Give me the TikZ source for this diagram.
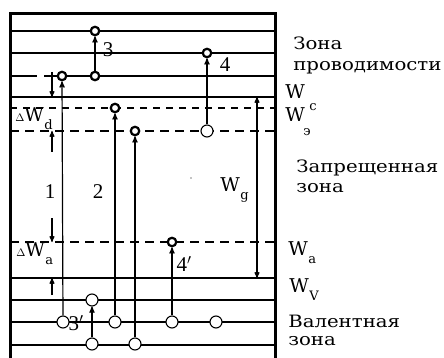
\documentclass[tikz,border=0pt]{standalone}
\usepackage{fontspec}
\usepackage{graphicx}
\usepackage{tikz}
\usetikzlibrary{arrows}
\setmainfont{DejaVu Serif}
\newfontfamily\numfont{Liberation Serif}
\newcommand{\zonetext}[1]{\scalebox{1.16}[1]{#1}}
\newcommand{\lvl}[1]{W\kern0.5pt\raisebox{-8pt}{\fontsize{13}{13}\selectfont #1}}

\begin{document}
\begin{tikzpicture}[x=1pt,y=-1pt,>=stealth',semithick]
\tikzstyle{level}=[line width=1.1pt]
\tikzstyle{edge level}=[line width=2.6pt]
\tikzstyle{donor}=[line width=1.1pt,dash pattern=on 7pt off 6pt]
\tikzstyle{impurity}=[line width=2.6pt,dash pattern=on 9pt off 6pt]
\tikzstyle{electron}=[circle,draw,fill=white,line width=2.2pt,inner sep=0pt,minimum size=8.5pt]
\tikzstyle{hole}=[circle,draw,fill=white,line width=1.1pt,inner sep=0pt,minimum size=12pt]
\tikzstyle{jump}=[->,line width=1.2pt]
\tikzstyle{lbl}=[inner sep=0pt,anchor=base west,font=\fontsize{17}{17}\selectfont]
\tikzstyle{wlbl}=[inner sep=0pt,anchor=base west,font=\fontsize{19}{19}\selectfont]
\tikzstyle{sub}=[inner sep=0pt,anchor=base west,font=\fontsize{13}{13}\selectfont]
\tikzstyle{num}=[inner sep=0pt,font=\numfont\fontsize{21}{21}\selectfont]

\useasboundingbox (0,0) rectangle (444,358);

% energy levels
\foreach \y in {31,53,300,322,345}
  \draw[level] (10,\y) -- (275,\y);
\draw[level] (10,76) -- (37,76) (44,76) -- (275,76);
\draw[edge level] (10,97) -- (275,97);
\draw[edge level] (10,278) -- (275,278);
\draw[donor] (10,108) -- (275,108);
\draw[impurity] (10,131) -- (275,131);
\draw[impurity] (10,242) -- (275,242);
\draw[line width=3pt] (10,358) -- (10,14) -- (275,14) -- (275,358);

% electrons and holes
\node[electron] (e3)  at (95,31)   {};
\node[electron] (s3)  at (95,76)   {};
\node[electron] (e1)  at (62,76)   {};
\node[electron] (e4)  at (207,53)  {};
\node[electron] (ed)  at (115,108) {};
\node[electron] (ee)  at (135,131) {};
\node[electron] (ea)  at (172,242) {};
\node[hole]     (h4)  at (207,131) {};
\node[hole]     (h1)  at (63,322)  {};
\node[hole]     (h3u) at (92,300)  {};
\node[hole]     (h3d) at (92,344)  {};
\node[hole]     (hd)  at (115,322) {};
\node[hole]     (he)  at (135,344) {};
\node[hole]     (ha)  at (172,322) {};
\node[hole]     (hx)  at (216,322) {};

\path[jump] (s3)  edge (e3)
            (h1)  edge (e1)
            (hd)  edge (ed)
            (he)  edge (ee)
            (ha)  edge (ea)
            (h4)  edge (e4)
            (h3d) edge (h3u);

% level gaps
\coordinate (dA) at (52,72);
\coordinate (dB) at (52,97);
\coordinate (dC) at (52,152);
\coordinate (dD) at (52,131);
\coordinate (aA) at (52,218);
\coordinate (aB) at (52,242);
\coordinate (aC) at (52,295);
\coordinate (aD) at (52,278);
\coordinate (gT) at (257,97);
\coordinate (gB) at (257,278);
\path[->,line width=1.1pt] (dA) edge (dB)
                           (dC) edge (dD)
                           (aA) edge (aB)
                           (aC) edge (aD);
\draw[<->,line width=1.1pt] (gT) -- (gB);

% numbers
\node[num] (n1)  at (50,192)  {1};
\node[num] (n2)  at (98,192)  {2};
\node[num] (n3)  at (108,50)  {3};
\node[num] (n4)  at (225,65)  {4};
\node[num] (n3p) at (76,323)  {3$'$};
\node[num] (n4p) at (184,264) {4$'$};
\fill (191,178) circle (0.7pt);

% level names
\node[wlbl] (dWd) at (15,122) {{\fontsize{11}{11}\selectfont$\Delta$}\lvl{d}};
\node[wlbl] (dWa) at (16,256) {{\fontsize{11}{11}\selectfont$\Delta$}\lvl{a}};
\node[wlbl] (Wg)  at (220,191) {\lvl{g}};
\node[wlbl] (Wc)  at (285,99)  {W};
\node[wlbl] (We)  at (285,122) {W};
\node[sub]  (Wcs) at (309,111) {c};
\node[sub]  (Wes) at (303,136) {э};
\node[wlbl] (Wa)  at (288,255) {\lvl{a}};
\node[wlbl] (Wv)  at (289,292) {\lvl{V}};

% zone names
\node[lbl] (zc1) at (293,50)  {\zonetext{Зона}};
\node[lbl] (zc2) at (293,71)  {\zonetext{проводимости}};
\node[lbl] (zf1) at (296,172) {\zonetext{Запрещенная}};
\node[lbl] (zf2) at (296,193) {\zonetext{зона}};
\node[lbl] (zv1) at (288,327) {\zonetext{Валентная}};
\node[lbl] (zv2) at (288,345) {\zonetext{зона}};
\end{tikzpicture}
\end{document}
